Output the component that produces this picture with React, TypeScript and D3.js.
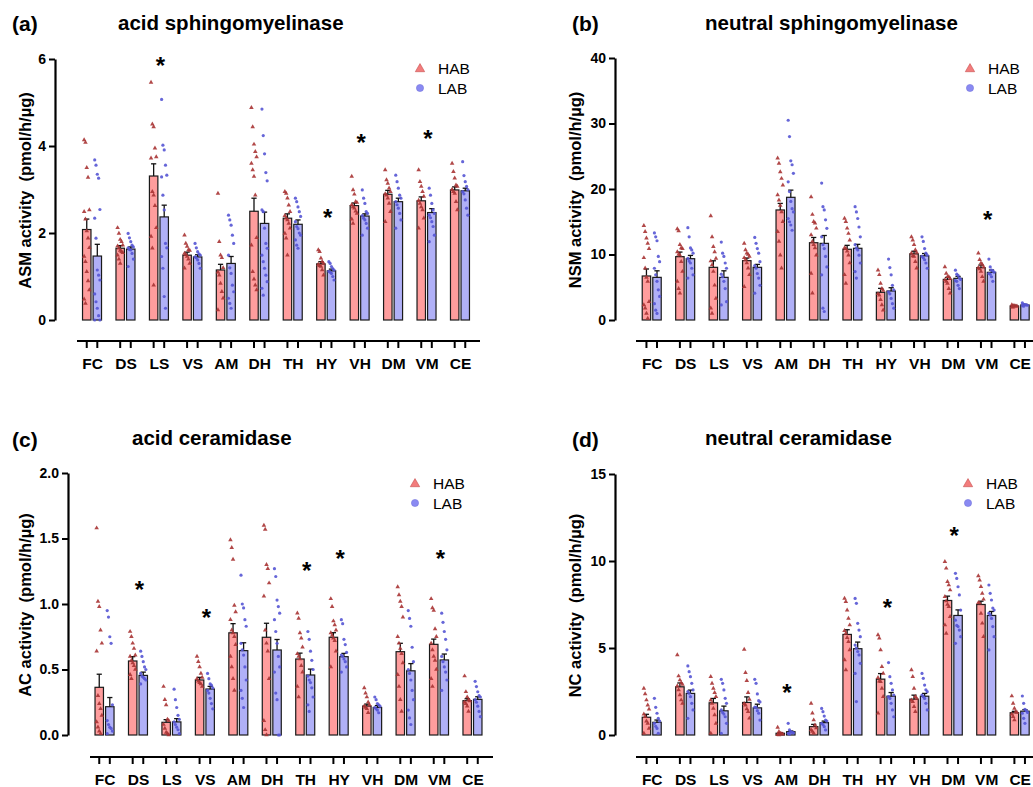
import React, { useEffect, useRef } from "react";
import * as d3 from "d3";

const regions = ["FC", "DS", "LS", "VS", "AM", "DH", "TH", "HY", "VH", "DM", "VM", "CE"];
const groups = ["HAB", "LAB"];

// (a) acid sphingomyelinase
const asmTicks = [0, 2, 4, 6];
const asmHabMean = [2.08, 1.65, 3.31, 1.49, 1.15, 2.5, 2.34, 1.29, 2.63, 2.89, 2.74, 2.99];
const asmLabMean = [1.47, 1.63, 2.37, 1.45, 1.3, 2.22, 2.2, 1.13, 2.39, 2.72, 2.47, 2.97];
const asmHabSem = [0.24, 0.06, 0.28, 0.07, 0.13, 0.3, 0.1, 0.05, 0.06, 0.09, 0.09, 0.07];
const asmLabSem = [0.27, 0.05, 0.27, 0.05, 0.16, 0.26, 0.1, 0.04, 0.05, 0.08, 0.09, 0.06];
const asmHabPts = [
  [4.14, 4.08, 3.5, 3.28, 2.53, 2.49, 2.32, 2.05, 1.88, 1.66, 1.46, 1.34, 1.11, 0.9, 0.69, 0.48, 0.38],
  [2.12, 1.99, 1.85, 1.8, 1.72, 1.7, 1.65, 1.6, 1.57, 1.55, 1.49, 1.4, 1.3],
  [5.46, 4.5, 4.44, 3.95, 3.75, 3.72, 2.95, 2.87, 2.63, 2.12, 1.92, 1.65, 0.8],
  [1.95, 1.76, 1.69, 1.61, 1.6, 1.53, 1.5, 1.46, 1.4, 1.3, 1.19],
  [2.91, 1.8, 1.49, 1.43, 1.2, 1.1, 1.03, 0.84, 0.65, 0.5, 0.23],
  [4.88, 4.44, 4.04, 3.87, 3.75, 3.6, 3.45, 3.3, 2.87, 1.89, 1.72, 1.11, 0.94, 0.8, 0.69],
  [2.95, 2.91, 2.8, 2.64, 2.49, 2.4, 2.34, 2.3, 2.22, 2.11, 1.99, 1.88, 1.49],
  [1.61, 1.57, 1.42, 1.34, 1.3, 1.28, 1.25, 1.23, 1.15, 1.03],
  [3.3, 2.99, 2.89, 2.72, 2.7, 2.65, 2.6, 2.57, 2.5, 2.45, 2.32, 2.22],
  [3.45, 3.22, 3.14, 3.03, 2.95, 2.9, 2.87, 2.8, 2.68, 2.49, 2.26],
  [3.45, 3.18, 3.07, 2.95, 2.84, 2.75, 2.68, 2.6, 2.53, 2.34, 2.11],
  [3.6, 3.41, 3.26, 3.1, 3.07, 3.0, 2.95, 2.91, 2.72, 2.53],
];
const asmLabPts = [
  [3.68, 3.56, 3.35, 3.26, 2.54, 2.34, 1.88, 1.15, 1.03, 0.92, 0.6, 0.42, 0.27, 0.1, 0, 0],
  [1.99, 1.89, 1.8, 1.72, 1.68, 1.66, 1.62, 1.61, 1.53, 1.4, 1.23],
  [5.07, 4.02, 3.91, 3.56, 3.33, 3.29, 2.87, 2.53, 1.76, 1.66, 1.46, 1.19, 0.54, 0.27],
  [1.76, 1.66, 1.57, 1.52, 1.49, 1.45, 1.43, 1.38, 1.3, 1.19],
  [2.41, 2.3, 2.18, 1.95, 1.76, 1.49, 1.2, 1.07, 0.8, 0.65, 0.5, 0.38, 0.27],
  [4.85, 4.24, 3.82, 3.39, 3.2, 2.53, 2.49, 2.11, 1.76, 1.65, 1.49, 1.34, 1.19, 1.03, 0.88, 0.73, 0.57],
  [2.8, 2.72, 2.6, 2.49, 2.38, 2.26, 2.15, 2.1, 2.0, 1.95, 1.84, 1.72, 1.65],
  [1.34, 1.3, 1.23, 1.18, 1.15, 1.12, 1.1, 1.07, 1.0, 0.92],
  [2.99, 2.8, 2.68, 2.49, 2.45, 2.4, 2.34, 2.3, 2.22, 2.11, 1.95],
  [3.33, 3.18, 3.03, 2.87, 2.8, 2.72, 2.65, 2.57, 2.45, 2.3, 2.11],
  [3.03, 2.87, 2.68, 2.53, 2.45, 2.41, 2.35, 2.26, 2.15, 1.95, 1.8],
  [3.64, 3.32, 3.18, 3.07, 3.0, 2.95, 2.9, 2.76, 2.57, 2.41],
];
const asmStarRegions = ["LS", "HY", "VH", "VM"];
const asmStarY = [5.95, 2.46, 4.18, 4.28];

// (b) neutral sphingomyelinase
const nsmTicks = [0, 10, 20, 30, 40];
const nsmHabMean = [6.72, 9.67, 8.04, 9.06, 16.8, 11.8, 10.8, 4.23, 10.1, 6.2, 7.99, 2.14];
const nsmLabMean = [6.51, 9.36, 6.51, 8.04, 18.73, 11.7, 10.95, 4.43, 9.8, 6.36, 7.28, 2.29];
const nsmHabSem = [1.07, 0.7, 1.0, 0.4, 1.0, 0.8, 0.6, 0.6, 0.4, 0.3, 0.4, 0.1];
const nsmLabSem = [1.0, 0.5, 1.0, 0.45, 1.1, 1.2, 0.6, 0.5, 0.35, 0.3, 0.35, 0.1];
const nsmHabPts = [
  [14.4, 13.5, 12.5, 11.7, 10.9, 9.5, 7.9, 6.5, 5.9, 2.8, 2.3, 1.8, 1.0, 0.25],
  [13.9, 13.6, 11.5, 11.0, 10.9, 10.4, 10.0, 9.9, 8.9, 7.4, 5.9, 4.8, 4.1],
  [15.9, 12.7, 11.2, 10.4, 9.4, 9.0, 8.4, 7.4, 5.3, 3.3, 1.8, 1.0],
  [11.7, 10.7, 10.2, 10.0, 9.7, 9.5, 9.2, 8.7, 7.9, 6.9, 5.1],
  [24.7, 23.9, 22.6, 21.6, 20.6, 19.1, 18.3, 17.5, 16.5, 15.0, 13.5, 12.0, 9.9, 7.9],
  [18.8, 16.1, 15.0, 14.8, 14.0, 13.0, 12.0, 11.5, 11.0, 9.9, 7.1, 4.1],
  [15.5, 15.0, 14.0, 13.2, 12.2, 11.0, 10.9, 10.5, 9.9, 8.7, 6.9, 5.6],
  [7.6, 6.9, 5.6, 4.8, 4.5, 4.0, 3.8, 3.1, 2.3, 1.5],
  [12.7, 12.2, 11.5, 10.7, 10.3, 10.2, 9.8, 9.7, 8.9, 7.9],
  [8.1, 7.1, 6.6, 6.6, 6.3, 6.1, 5.9, 5.6, 4.8, 4.1],
  [10.2, 9.2, 8.7, 8.5, 8.1, 8.0, 7.8, 7.4, 6.6, 5.9],
  [2.3, 2.2, 2.15, 2.1, 2.1, 2.0, 1.95],
];
const nsmLabPts = [
  [13.3, 12.7, 12.1, 9.7, 8.9, 7.9, 6.9, 5.9, 4.6, 3.6, 2.5, 1.5, 1.0],
  [14.1, 12.7, 11.0, 10.7, 10.2, 9.4, 9.0, 8.7, 7.9, 6.9, 6.4],
  [11.9, 10.2, 9.7, 8.7, 7.9, 7.0, 6.6, 5.9, 4.8, 2.8, 2.3],
  [12.6, 11.7, 10.9, 10.2, 8.9, 8.3, 7.9, 7.1, 6.4, 5.3, 4.1],
  [30.5, 28.0, 24.3, 23.7, 22.4, 21.1, 19.6, 18.1, 17.0, 16.5, 15.5, 15.0, 14.5, 13.7],
  [20.9, 17.3, 16.8, 15.3, 14.0, 12.7, 11.5, 10.9, 9.7, 8.1, 6.9, 1.8, 1.3],
  [17.3, 16.5, 15.5, 14.2, 12.7, 11.5, 11.0, 10.7, 9.9, 8.7, 7.4, 6.4],
  [9.3, 8.0, 6.9, 5.3, 4.6, 4.3, 4.0, 3.3, 2.5, 1.8],
  [12.7, 12.0, 10.9, 10.2, 9.9, 9.7, 9.5, 9.2, 8.7, 7.9],
  [7.6, 7.0, 6.8, 6.4, 6.2, 6.0, 5.9, 5.3, 4.8],
  [9.3, 8.1, 7.6, 7.5, 7.3, 7.1, 7.0, 6.6, 5.9],
  [2.6, 2.4, 2.35, 2.3, 2.25, 2.2, 2.1],
];
const nsmStarRegions = ["VM"];
const nsmStarY = [16.0];

// (c) acid ceramidase
const acTicks = [0, 0.5, 1.0, 1.5, 2.0];
const acHabMean = [0.364, 0.565, 0.097, 0.42, 0.78, 0.746, 0.58, 0.746, 0.221, 0.636, 0.692, 0.262];
const acLabMean = [0.216, 0.455, 0.1, 0.351, 0.644, 0.649, 0.458, 0.598, 0.21, 0.49, 0.573, 0.272];
const acHabSem = [0.1, 0.033, 0.02, 0.02, 0.07, 0.107, 0.045, 0.035, 0.015, 0.064, 0.04, 0.015];
const acLabSem = [0.07, 0.025, 0.025, 0.02, 0.06, 0.08, 0.045, 0.025, 0.015, 0.055, 0.045, 0.02];
const acHabPts = [
  [1.58, 1.02, 0.98, 0.8, 0.7, 0.64, 0.3, 0.24, 0.2, 0.15, 0.1, 0.06, 0.03, 0.01],
  [0.79, 0.75, 0.7, 0.66, 0.61, 0.6, 0.57, 0.55, 0.53, 0.5, 0.46, 0.43],
  [0.37, 0.27, 0.23, 0.12, 0.11, 0.08, 0.05, 0.02, 0.01, 0.0],
  [0.6, 0.56, 0.52, 0.47, 0.44, 0.43, 0.41, 0.4, 0.39, 0.37],
  [1.49, 1.43, 1.34, 0.99, 0.94, 0.88, 0.8, 0.78, 0.75, 0.69, 0.6, 0.52, 0.43, 0.34],
  [1.6, 1.57, 1.3, 1.27, 1.16, 1.06, 0.8, 0.7, 0.64, 0.43, 0.11, 0.04, 0],
  [0.93, 0.89, 0.78, 0.74, 0.67, 0.62, 0.6, 0.58, 0.53, 0.48, 0.37, 0.29],
  [1.04, 0.98, 0.87, 0.84, 0.8, 0.78, 0.76, 0.74, 0.72, 0.64, 0.52],
  [0.36, 0.32, 0.29, 0.25, 0.23, 0.22, 0.21, 0.2, 0.17],
  [1.13, 1.07, 1.02, 0.98, 0.9, 0.75, 0.7, 0.66, 0.62, 0.55, 0.46, 0.37, 0.27, 0.18],
  [1.04, 0.97, 0.95, 0.81, 0.75, 0.7, 0.65, 0.6, 0.57, 0.5, 0.43, 0.37],
  [0.45, 0.33, 0.29, 0.27, 0.26, 0.25, 0.24, 0.22, 0.18],
];
const acLabPts = [
  [0.95, 0.9, 0.75, 0.7, 0.23, 0.11, 0.08, 0.06, 0.05, 0.03, 0.01],
  [0.64, 0.6, 0.56, 0.52, 0.5, 0.47, 0.45, 0.44, 0.43, 0.42, 0.39],
  [0.35, 0.27, 0.21, 0.15, 0.12, 0.1, 0.08, 0.06, 0.04, 0.01],
  [0.47, 0.43, 0.39, 0.38, 0.36, 0.34, 0.32, 0.28, 0.24, 0.2],
  [1.22, 1.0, 0.97, 0.88, 0.83, 0.7, 0.65, 0.61, 0.52, 0.42, 0.34, 0.28, 0.21],
  [1.27, 1.21, 1.03, 0.98, 0.93, 0.88, 0.79, 0.7, 0.6, 0.52, 0.48, 0.32, 0.27, 0, 0],
  [0.79, 0.73, 0.64, 0.57, 0.5, 0.45, 0.42, 0.4, 0.36, 0.29, 0.23, 0.18],
  [0.88, 0.85, 0.73, 0.69, 0.63, 0.61, 0.6, 0.58, 0.56, 0.52, 0.48],
  [0.29, 0.27, 0.24, 0.23, 0.22, 0.21, 0.2, 0.19, 0.17],
  [0.95, 0.89, 0.83, 0.67, 0.56, 0.5, 0.47, 0.42, 0.34, 0.27, 0.19, 0.13, 0.08],
  [0.93, 0.86, 0.79, 0.73, 0.65, 0.6, 0.56, 0.52, 0.48, 0.42, 0.34],
  [0.41, 0.37, 0.33, 0.3, 0.29, 0.27, 0.25, 0.22, 0.18, 0.14],
];
const acStarRegions = ["DS", "VS", "TH", "HY", "VM"];
const acStarY = [1.145, 0.93, 1.29, 1.38, 1.38];

// (d) neutral ceramidase
const ncTicks = [0, 5, 10, 15];
const ncHabMean = [1.02, 2.77, 1.85, 1.87, 0.1, 0.48, 5.78, 3.21, 2.06, 7.73, 7.5, 1.28];
const ncLabMean = [0.73, 2.39, 1.39, 1.56, 0.19, 0.71, 4.96, 2.23, 2.23, 6.87, 6.87, 1.37];
const ncHabSem = [0.17, 0.22, 0.25, 0.32, 0.03, 0.13, 0.27, 0.32, 0.23, 0.25, 0.19, 0.08];
const ncLabSem = [0.13, 0.19, 0.27, 0.21, 0.04, 0.09, 0.38, 0.21, 0.16, 0.32, 0.23, 0.09];
const ncHabPts = [
  [2.68, 2.36, 2.01, 1.72, 1.48, 1.2, 1.05, 0.8, 0.67, 0.38, 0.1],
  [4.6, 3.39, 3.16, 3.0, 2.9, 2.82, 2.59, 2.3, 2.01, 1.82],
  [3.35, 2.97, 2.68, 2.43, 2.2, 2.0, 1.82, 1.53, 1.15, 0.67, 0.1],
  [4.92, 3.58, 3.12, 2.43, 2.05, 1.8, 1.72, 1.5, 1.34, 0.96],
  [0.44, 0.19, 0.1, 0.06, 0.05, 0.02, 0],
  [1.82, 1.25, 0.86, 0.57, 0.4, 0.29, 0.2, 0.1],
  [7.85, 7.66, 7.18, 6.7, 6.32, 6.0, 5.84, 5.6, 5.36, 4.89, 4.31, 3.74],
  [5.75, 5.56, 4.89, 3.93, 3.54, 3.3, 3.1, 3.07, 2.68, 2.2, 1.25],
  [3.74, 3.35, 2.68, 2.2, 2.1, 2.0, 1.92, 1.63, 1.34],
  [9.96, 9.58, 8.81, 8.62, 8.33, 7.95, 7.7, 7.5, 7.38, 6.8, 6.32, 5.84],
  [9.14, 8.9, 8.52, 8.14, 7.8, 7.6, 7.57, 6.99, 6.42, 5.65],
  [2.24, 1.82, 1.53, 1.34, 1.3, 1.2, 1.05, 0.86],
];
const ncLabPts = [
  [2.11, 1.59, 1.25, 0.96, 0.8, 0.67, 0.5, 0.38, 0.1],
  [3.97, 3.64, 3.35, 2.97, 2.59, 2.5, 2.4, 2.2, 1.82, 1.44, 0.96],
  [3.2, 2.97, 2.59, 2.11, 1.82, 1.44, 1.3, 1.2, 1.05, 0.67, 0.1],
  [3.2, 2.97, 2.36, 1.97, 1.9, 1.6, 1.59, 1.4, 1.25, 0.86],
  [0.67, 0.29, 0.19, 0.15, 0.12, 0.1, 0.05],
  [1.53, 1.34, 1.09, 0.86, 0.8, 0.67, 0.6, 0.48, 0.29],
  [7.85, 7.57, 6.42, 6.03, 5.65, 5.17, 5.0, 4.8, 4.6, 4.12, 3.54, 1.92],
  [4.16, 3.35, 2.97, 2.59, 2.3, 2.2, 2.1, 1.82, 1.44, 1.05],
  [3.54, 3.26, 2.87, 2.6, 2.49, 2.3, 2.2, 2.1, 1.82, 1.44],
  [9.29, 9.0, 8.52, 8.05, 7.18, 6.6, 6.3, 6.23, 6.03, 5.65, 5.27],
  [8.62, 8.14, 7.76, 7.3, 7.18, 7.0, 6.9, 6.7, 6.23, 5.65, 4.89],
  [2.24, 1.82, 1.48, 1.4, 1.3, 1.25, 0.96, 0.67],
];
const ncStarRegions = ["AM", "HY", "DM"];
const ncStarY = [2.68, 7.6, 11.7];

const FONT = "'Liberation Sans', Arial, Helvetica, sans-serif";
const HAB_FILL = "#ff9d9d";
const LAB_FILL = "#b0b0f7";
const HAB_DOT = "#a83434";
const LAB_DOT = "#5555d4";

// panel layout (pixel positions only)
const panels = [
  {
    letter: "(a)", title: "acid sphingomyelinase", yLabel: "ASM activity\u00A0\u00A0(pmol/h/µg)",
    habMean: asmHabMean, labMean: asmLabMean, habSem: asmHabSem, labSem: asmLabSem,
    habPts: asmHabPts, labPts: asmLabPts, starRegions: asmStarRegions, starY: asmStarY,
    ticks: asmTicks, fmt: d3.format("d"),
    ax: 55, yTop: 59, yBot: 320, xL: 75.3, xR: 476.7, axisY: 341, line0: 77, line1: 480,
    letterX: 12, letterY: 31, titleX: 118, titleY: 30, labelX: 25, legX: 420, legY: 68,
  },
  {
    letter: "(b)", title: "neutral sphingomyelinase", yLabel: "NSM activity\u00A0\u00A0(pmol/h/µg)",
    habMean: nsmHabMean, labMean: nsmLabMean, habSem: nsmHabSem, labSem: nsmLabSem,
    habPts: nsmHabPts, labPts: nsmLabPts, starRegions: nsmStarRegions, starY: nsmStarY,
    ticks: nsmTicks, fmt: d3.format("d"),
    ax: 615, yTop: 58, yBot: 320, xL: 635, xR: 1036.4, axisY: 341, line0: 636, line1: 1040,
    letterX: 572, letterY: 31, titleX: 705, titleY: 30, labelX: 575, legX: 970, legY: 68,
  },
  {
    letter: "(c)", title: "acid ceramidase", yLabel: "AC activity\u00A0\u00A0(pmol/h/µg)",
    habMean: acHabMean, labMean: acLabMean, habSem: acHabSem, labSem: acLabSem,
    habPts: acHabPts, labPts: acLabPts, starRegions: acStarRegions, starY: acStarY,
    ticks: acTicks, fmt: d3.format(".1f"),
    ax: 68, yTop: 473, yBot: 735, xL: 87.8, xR: 489.2, axisY: 757, line0: 90, line1: 493,
    letterX: 12, letterY: 447, titleX: 132, titleY: 445, labelX: 25, legX: 415, legY: 483,
  },
  {
    letter: "(d)", title: "neutral ceramidase", yLabel: "NC activity\u00A0\u00A0(pmol/h/µg)",
    habMean: ncHabMean, labMean: ncLabMean, habSem: ncHabSem, labSem: ncLabSem,
    habPts: ncHabPts, labPts: ncLabPts, starRegions: ncStarRegions, starY: ncStarY,
    ticks: ncTicks, fmt: d3.format("d"),
    ax: 615, yTop: 474, yBot: 735, xL: 635, xR: 1036.4, axisY: 757, line0: 636, line1: 1040,
    letterX: 572, letterY: 447, titleX: 705, titleY: 445, labelX: 575, legX: 968, legY: 483,
  },
];

function drawPanel(svg, p) {
  const g = svg.append("g");
  const y = d3.scaleLinear().domain([0, p.ticks[p.ticks.length - 1]]).range([p.yBot, p.yTop]);
  const x = d3.scaleBand().domain(regions).range([p.xL, p.xR]);
  const bw = x.bandwidth();
  const sub = d3.scaleBand().domain(groups).range([bw / 2 - 9.5, bw / 2 + 9.5]).paddingInner(0.2);

  // panel letter + title
  g.append("text").attr("x", p.letterX).attr("y", p.letterY).text(p.letter)
    .attr("font-size", 21).attr("font-weight", "bold");
  g.append("text").attr("x", p.titleX).attr("y", p.titleY).text(p.title)
    .attr("font-size", 20.5).attr("font-weight", "bold");

  // y axis
  const yAxis = d3.axisLeft(y).tickValues(p.ticks).tickFormat(p.fmt).tickSize(6).tickSizeOuter(0).tickPadding(3);
  const ya = g.append("g").attr("transform", `translate(${p.ax},0)`).call(yAxis);
  ya.select(".domain").attr("stroke", "#000").attr("stroke-width", 2.2);
  ya.selectAll(".tick line").attr("stroke", "#000").attr("stroke-width", 2);
  ya.selectAll(".tick text").attr("font-size", 14).attr("font-weight", "bold")
    .attr("font-family", FONT).attr("fill", "#000");

  const midY = (p.yTop + p.yBot) / 2 + 1;
  g.append("text")
    .attr("transform", `translate(${p.labelX + 6},${midY}) rotate(-90)`)
    .attr("text-anchor", "middle").attr("font-size", 16.5).attr("font-weight", "bold")
    .text(p.yLabel);

  // x axis (separate line below the plot)
  g.append("line").attr("x1", p.line0).attr("x2", p.line1)
    .attr("y1", p.axisY).attr("y2", p.axisY).attr("stroke", "#000").attr("stroke-width", 2.2);

  const series = [
    { key: "HAB", mean: p.habMean, sem: p.habSem, pts: p.habPts, fill: HAB_FILL, dot: HAB_DOT },
    { key: "LAB", mean: p.labMean, sem: p.labSem, pts: p.labPts, fill: LAB_FILL, dot: LAB_DOT },
  ];

  const tri = d3.symbol(d3.symbolTriangle, 9)();

  series.forEach((s) => {
    const cx = (r) => x(r) + sub(s.key) + sub.bandwidth() / 2;

    // ticks on the x axis, one per bar
    g.append("g").selectAll("line").data(regions).join("line")
      .attr("x1", cx).attr("x2", cx)
      .attr("y1", p.axisY).attr("y2", p.axisY + 7)
      .attr("stroke", "#000").attr("stroke-width", 2);

    g.append("g").selectAll("rect").data(regions).join("rect")
      .attr("x", (r) => x(r) + sub(s.key))
      .attr("y", (r, i) => y(s.mean[i]))
      .attr("width", sub.bandwidth())
      .attr("height", (r, i) => y(0) - y(s.mean[i]))
      .attr("fill", s.fill).attr("stroke", "#1a1a1a").attr("stroke-width", 1.2);

    // SEM error bars (upper only)
    const eb = g.append("g").attr("stroke", "#111").attr("stroke-width", 1.3);
    eb.selectAll("line.v").data(regions).join("line").attr("class", "v")
      .attr("x1", cx).attr("x2", cx)
      .attr("y1", (r, i) => y(s.mean[i])).attr("y2", (r, i) => y(s.mean[i] + s.sem[i]));
    eb.selectAll("line.c").data(regions).join("line").attr("class", "c")
      .attr("x1", (r) => cx(r) - 2.6).attr("x2", (r) => cx(r) + 2.6)
      .attr("y1", (r, i) => y(s.mean[i] + s.sem[i])).attr("y2", (r, i) => y(s.mean[i] + s.sem[i]));

    // individual animals
    const pts = regions.flatMap((r, i) =>
      s.pts[i].map((v, j) => ({ px: cx(r) + ((j % 5) - 2) * 1.3, py: y(v) }))
    );
    if (s.key === "HAB") {
      g.append("g").selectAll("path").data(pts).join("path")
        .attr("d", tri).attr("transform", (d) => `translate(${d.px},${d.py})`)
        .attr("fill", s.dot).attr("opacity", 0.9);
    } else {
      g.append("g").selectAll("circle").data(pts).join("circle")
        .attr("cx", (d) => d.px).attr("cy", (d) => d.py).attr("r", 1.6)
        .attr("fill", s.dot).attr("opacity", 0.9);
    }
  });

  // category labels
  g.append("g").selectAll("text").data(regions).join("text")
    .attr("x", (r) => x(r) + bw / 2 + 0.5).attr("y", p.axisY + 28)
    .attr("text-anchor", "middle").attr("font-size", 15.5).attr("font-weight", "bold")
    .text((r) => r);

  // significance stars
  g.append("g").selectAll("text").data(p.starRegions).join("text")
    .attr("x", (r) => x(r) + bw / 2 + 1.5)
    .attr("y", (r, i) => y(p.starY[i]) + 13)
    .attr("text-anchor", "middle").attr("font-size", 24).attr("font-weight", "bold")
    .text("*");

  // legend
  const lg = g.append("g");
  lg.append("path").attr("d", d3.symbol(d3.symbolTriangle, 38)())
    .attr("transform", `translate(${p.legX},${p.legY + 1})`)
    .attr("fill", "#f27c7c").attr("stroke", "#c85050").attr("stroke-width", 0.6);
  lg.append("circle").attr("cx", p.legX).attr("cy", p.legY + 20).attr("r", 3.6)
    .attr("fill", "#8a8af2").attr("stroke", "#6c6cd8").attr("stroke-width", 0.5);
  lg.append("text").attr("x", p.legX + 18).attr("y", p.legY + 6).text("HAB").attr("font-size", 15.5);
  lg.append("text").attr("x", p.legX + 18).attr("y", p.legY + 26).text("LAB").attr("font-size", 15.5);
}

const App = () => {
  const svgRef = useRef(null);

  useEffect(() => {
    const svg = d3.select(svgRef.current);
    svg.selectAll("*").remove();
    svg.append("rect").attr("width", 1033).attr("height", 787).attr("fill", "#fff");
    panels.forEach((p) => drawPanel(svg, p));
  }, []);

  return (
    <svg
      ref={svgRef}
      width={1033}
      height={787}
      style={{ position: "absolute", left: 0, top: 0, fontFamily: FONT, color: "#000" }}
      fontFamily={FONT}
    />
  );
};

export default App;
